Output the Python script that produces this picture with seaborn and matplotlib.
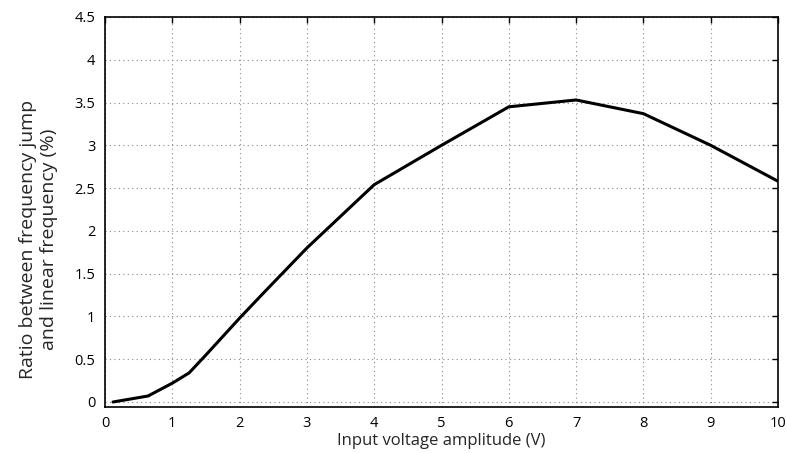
import pandas as pd
import seaborn as sns
import matplotlib.pyplot as plt

# Input voltage amplitude (V) vs ratio of frequency jump to linear frequency (%)
voltage = [0.12, 0.64, 1.0, 1.25, 1.5, 2.0, 2.35, 3.0, 4.0, 5.0, 6.0, 7.0, 8.0, 9.0, 10.0]
ratio = [0.0, 0.07, 0.22, 0.34, 0.55, 0.98, 1.27, 1.80, 2.54, 3.0, 3.45, 3.53, 3.37, 3.0, 2.58]

x_ticks = list(range(0, 11))
y_ticks = [0, 0.5, 1, 1.5, 2, 2.5, 3, 3.5, 4, 4.5]
y_labels = ["0", "0.5", "1", "1.5", "2", "2.5", "3", "3.5", "4", "4.5"]


def main():
    sns.set_style("white")
    plt.rcParams['font.family'] = ['Open Sans', 'DejaVu Sans']

    df = pd.DataFrame({"voltage": voltage, "ratio": ratio})

    fig = plt.figure(figsize=(7.87, 4.53), dpi=100)
    ax = fig.add_axes([0.1334, 0.1026, 0.8552, 0.8599])

    sns.lineplot(data=df, x="voltage", y="ratio", ax=ax, color="black", linewidth=2.2)

    ax.set_xlim(0, 10)
    ax.set_ylim(-0.053, 4.5)
    ax.set_xticks(x_ticks)
    ax.set_yticks(y_ticks)
    ax.set_yticklabels(y_labels)

    ax.grid(True, linestyle=(0, (1, 3)), color="#888888", linewidth=0.8)
    ax.tick_params(direction="in", length=4, width=1, top=True, right=True,
                   labelsize=10.5, colors="black", pad=7)
    for sp in ax.spines.values():
        sp.set_color("black")
        sp.set_linewidth(1.2)

    ax.set_xlabel("Input voltage amplitude (V)", fontsize=12, labelpad=1)
    ax.set_ylabel("Ratio between frequency jump\nand linear frequency (%)", fontsize=14,
                  labelpad=12, linespacing=1.2)
    ax.yaxis.label.set_y(0.43)

    fig.savefig("out.png", dpi=100)
    plt.close(fig)


if __name__ == "__main__":
    main()
